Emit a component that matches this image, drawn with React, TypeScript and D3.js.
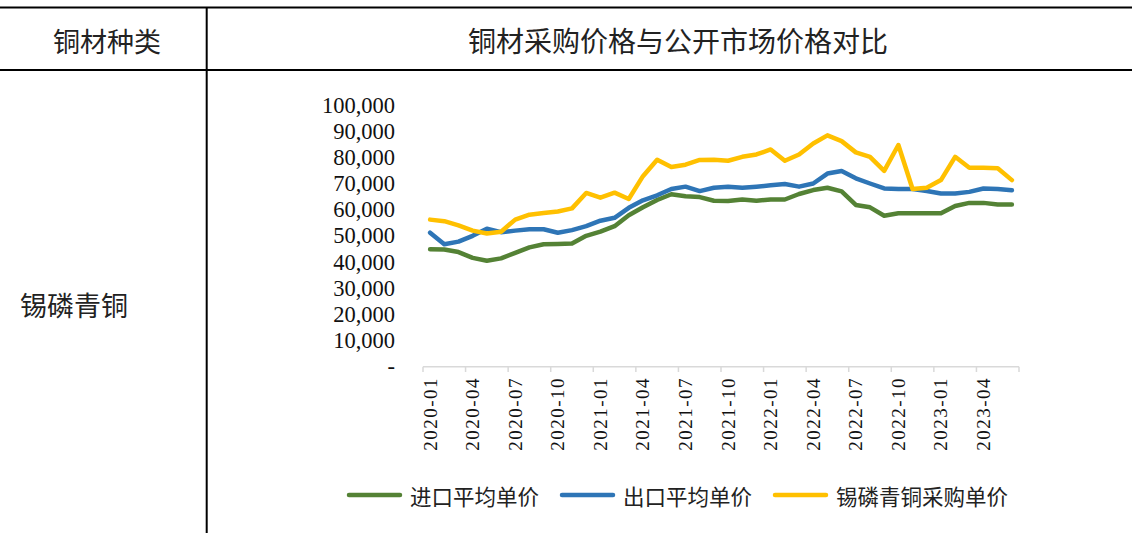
import React from "react";
import * as d3 from "d3";

const months = [
  "2020-01","2020-02","2020-03","2020-04","2020-05","2020-06","2020-07","2020-08","2020-09","2020-10","2020-11","2020-12",
  "2021-01","2021-02","2021-03","2021-04","2021-05","2021-06","2021-07","2021-08","2021-09","2021-10","2021-11","2021-12",
  "2022-01","2022-02","2022-03","2022-04","2022-05","2022-06","2022-07","2022-08","2022-09","2022-10","2022-11","2022-12",
  "2023-01","2023-02","2023-03","2023-04","2023-05","2023-06",
];

const importPrice = [
  44900,44800,43800,41600,40500,41400,43500,45600,46800,46900,47100,50000,
  51600,53700,57900,60900,63700,65900,65100,64800,63400,63300,63900,63400,
  63900,63900,66000,67500,68400,67000,61800,60900,57700,58600,58600,58600,
  58600,61400,62600,62600,62000,62000,
];

const exportPrice = [
  51200,46800,47800,50000,52700,51400,52000,52500,52500,51200,52200,53700,
  55800,56900,60700,63600,65500,67900,68800,67100,68400,68800,68400,68800,
  69300,69800,68800,70000,73800,74800,72000,70000,68100,67900,67900,67100,
  66200,66200,66800,68100,67900,67400,
];

const purchasePrice = [
  56200,55600,54000,52000,50900,51600,56200,58100,58700,59300,60500,66400,
  64600,66500,64100,72800,79100,76300,77200,79000,79100,78700,80200,81100,
  83000,78700,81100,85300,88400,86200,81900,80200,74800,84700,67900,68400,
  71300,80200,76000,76000,75800,71300,
];

const yTicks = [0, 10000, 20000, 30000, 40000, 50000, 60000, 70000, 80000, 90000, 100000];

const seriesNames = ["进口平均单价", "出口平均单价", "锡磷青铜采购单价"];
const seriesColors = ["#548235", "#2E75B6", "#FFC000"];

const W = 1132;
const H = 533;
const CJK = "'Noto Sans CJK SC', 'Noto Sans', sans-serif";
const SERIF = "'Liberation Serif', 'Times New Roman', serif";

export default function App() {
  const x = d3.scaleBand<string>().domain(months).range([423, 1019]).padding(0);
  const y = d3.scaleLinear().domain([0, 100000]).range([366.7, 105]);
  const cx = (m: string) => (x(m) as number) + x.bandwidth() / 2;

  const data = [importPrice, exportPrice, purchasePrice];
  const line = d3
    .line<number>()
    .x((_, i) => cx(months[i]))
    .y((d) => y(d));

  const fmt = d3.format(",");
  const tickIdx = months.map((_, i) => i).filter((i) => i % 3 === 0);
  const boundaries = [...tickIdx.map((i) => x(months[i]) as number), 1019];

  const legendX = [349, 562, 775];

  return (
    <svg
      width={W}
      height={H}
      style={{ position: "absolute", left: 0, top: 0, background: "#fff" }}
    >
      <rect x={0} y={0} width={W} height={H} fill="#fff" />
      {/* table lines */}
      <line x1={0} x2={W} y1={7.5} y2={7.5} stroke="#000" strokeWidth={2} />
      <line x1={0} x2={W} y1={70} y2={70} stroke="#000" strokeWidth={2} />
      <line x1={206.7} x2={206.7} y1={7} y2={H} stroke="#000" strokeWidth={2} />
      <text x={107} y={40} fontFamily={CJK} fontSize={27} textAnchor="middle" dominantBaseline="central" fill="#222">
        铜材种类
      </text>
      <text x={678} y={40} fontFamily={CJK} fontSize={28} textAnchor="middle" dominantBaseline="central" fill="#222">
        铜材采购价格与公开市场价格对比
      </text>
      <text x={20} y={304} fontFamily={CJK} fontSize={27} textAnchor="start" dominantBaseline="central" fill="#222">
        锡磷青铜
      </text>

      {/* y axis labels */}
      {yTicks.map((t) => (
        <text
          key={t}
          x={395}
          y={y(t)}
          fontFamily={SERIF}
          fontSize={22.5}
          textAnchor="end"
          dominantBaseline="central"
          fill="#111"
        >
          {t === 0 ? "-" : fmt(t)}
        </text>
      ))}

      {/* x axis */}
      <line x1={423} x2={1019} y1={366.7} y2={366.7} stroke="#D9D9D9" strokeWidth={1.5} />
      {boundaries.map((b, i) => (
        <line key={i} x1={b} x2={b} y1={366.7} y2={372} stroke="#D9D9D9" strokeWidth={1.5} />
      ))}
      {tickIdx.map((i) => (
        <text
          key={months[i]}
          transform={`translate(${cx(months[i])},377) rotate(-90)`}
          fontFamily={SERIF}
          fontSize={19}
          letterSpacing={1.5}
          textAnchor="end"
          dominantBaseline="central"
          fill="#111"
        >
          {months[i]}
        </text>
      ))}

      {/* lines */}
      {data.map((d, k) => (
        <path
          key={k}
          d={line(d) as string}
          fill="none"
          stroke={seriesColors[k]}
          strokeWidth={4.5}
          strokeLinejoin="round"
          strokeLinecap="round"
        />
      ))}

      {/* legend */}
      {seriesNames.map((n, k) => (
        <g key={n}>
          <line
            x1={legendX[k]}
            x2={legendX[k] + 51}
            y1={495}
            y2={495}
            stroke={seriesColors[k]}
            strokeWidth={4.5}
            strokeLinecap="round"
          />
          <text
            x={legendX[k] + 61}
            y={495}
            fontFamily={CJK}
            fontSize={21.5}
            dominantBaseline="central"
            fill="#222"
          >
            {n}
          </text>
        </g>
      ))}
    </svg>
  );
}
